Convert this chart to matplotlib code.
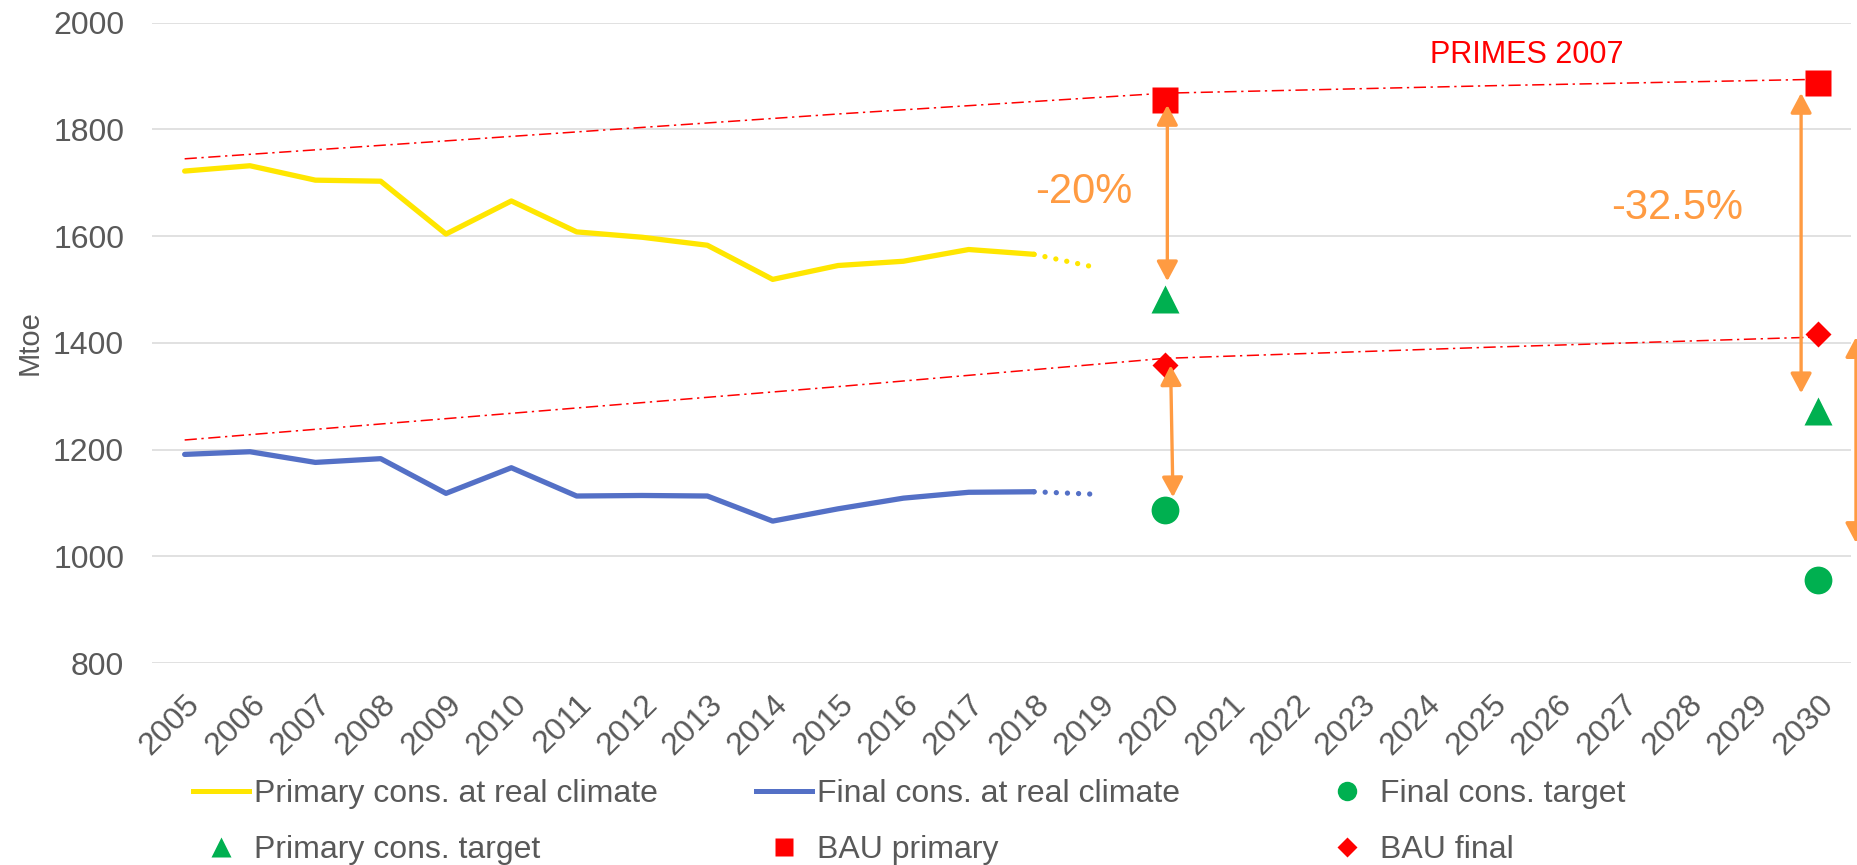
import matplotlib
matplotlib.use("Agg")
import matplotlib.pyplot as plt
from matplotlib.lines import Line2D

plt.rcParams['font.family'] = ['Liberation Sans', 'DejaVu Sans']

# Categories on the x axis
years = list(range(2005, 2031))

# Observed consumption, 2005-2018 (Mtoe)
hist_years = list(range(2005, 2019))
primary_real = [1722, 1732, 1705, 1703, 1604, 1666, 1608, 1598, 1583, 1519,
                1545, 1553, 1575, 1566]
final_real = [1191, 1196, 1176, 1183, 1118, 1166, 1113, 1114, 1113, 1066,
              1089, 1109, 1120, 1121]

# Provisional estimate 2018 -> 2019
ext_years = [2018, 2019]
primary_ext = [1566, 1540]
final_ext = [1121, 1116]

# Targets and business-as-usual projections
target_years = [2020, 2030]
primary_target = [1483, 1273]
final_target = [1086, 956]
bau_primary = [1855, 1888]
bau_final = [1358, 1416]

# PRIMES 2007 baseline trajectories
primes_years = [2005, 2010, 2015, 2020, 2025, 2030]
primes_primary = [1745, 1787, 1829, 1868, 1882, 1894]
primes_final = [1218, 1268, 1318, 1371, 1392, 1411]

reduction_labels = ['-20%', '-32.5%']

YELLOW = '#FFE600'
BLUE = '#5470C6'
GREEN = '#00B050'
RED = '#FF0000'
ORANGE = '#FF9B42'
GREY = '#595959'


def pos(yrs):
    return [y - years[0] for y in yrs]


fig = plt.figure(figsize=(18.58, 8.65), dpi=100)
ax = fig.add_axes([0.0818, 0.2335, 0.9143, 0.7402])

# baselines
dashdot = (0, (8, 3, 1.5, 3))
ax.plot(pos(primes_years), primes_primary, color=RED, lw=1.1,
        linestyle=dashdot, zorder=2)
ax.plot(pos(primes_years), primes_final, color=RED, lw=1.1,
        linestyle=dashdot, zorder=2)

# observed series
ax.plot(pos(hist_years), primary_real, color=YELLOW, lw=3.8,
        solid_joinstyle='round', solid_capstyle='round', zorder=3)
ax.plot(pos(hist_years), final_real, color=BLUE, lw=3.8,
        solid_joinstyle='round', solid_capstyle='round', zorder=3)
dotted = (0, (0.01, 2.1))
ax.plot(pos(ext_years), primary_ext, color=YELLOW, lw=3.8,
        linestyle=dotted, dash_capstyle='round', zorder=3)
ax.plot(pos(ext_years), final_ext, color=BLUE, lw=3.8,
        linestyle=dotted, dash_capstyle='round', zorder=3)

# markers
ax.plot(pos(target_years), final_target, 'o', color=GREEN, ms=20,
        mec='none', zorder=4)
ax.plot(pos(target_years), primary_target, '^', color=GREEN, ms=20,
        mec='none', zorder=4)
ax.plot(pos(target_years), bau_primary, 's', color=RED, ms=18.5,
        mec='none', zorder=4)
ax.plot(pos(target_years), bau_final, 'D', color=RED, ms=13.5,
        mec='none', zorder=4)

# reduction arrows: (x offset top, x offset bottom, top, bottom, shrink top, shrink bottom)
arrow_style = '<|-|>,head_length=0.6,head_width=0.32'
arrows = [
    (0.04, 0.04, bau_primary[0], primary_target[0], 3.5, 12.5),
    (0.09, 0.13, bau_final[0], final_target[0], 0, 9.5),
    (-0.26, -0.26, bau_primary[1], primary_target[1], 7.5, 12.5),
    (0.58, 0.58, bau_final[1], final_target[1], 2, 26.5),
]
for i, (dx_top, dx_bot, top, bot, sa, sb) in enumerate(arrows):
    x0 = pos([target_years[i // 2]])[0]
    ax.annotate('', xy=(x0 + dx_bot, bot), xytext=(x0 + dx_top, top),
                arrowprops=dict(arrowstyle=arrow_style, mutation_scale=20,
                                lw=2.4, color=ORANGE, shrinkA=sa, shrinkB=sb),
                annotation_clip=False, zorder=5)

ax.text(13.76, 1683, reduction_labels[0], color=ORANGE, fontsize=30,
        ha='center', va='center')
ax.text(22.85, 1653, reduction_labels[1], color=ORANGE, fontsize=30,
        ha='center', va='center')
ax.text(20.54, 1940, 'PRIMES 2007', color=RED, fontsize=22,
        ha='center', va='center')

# axes styling
ax.set_xlim(-0.5, len(years) - 0.5)
ax.set_ylim(800, 2000)
ax.set_yticks(range(800, 2001, 200))
ax.set_xticks(range(len(years)))
ax.set_xticklabels([str(y) for y in years], rotation=45, ha='right',
                   va='top', rotation_mode='anchor')
ax.tick_params(axis='x', length=0, pad=19, labelsize=23, labelcolor=GREY)
ax.tick_params(axis='y', length=0, pad=20, labelsize=23, labelcolor=GREY)
ax.grid(axis='y', color='#D9D9D9', lw=1.1)
ax.set_axisbelow(True)
for sp in ax.spines.values():
    sp.set_visible(False)

fig.text(29.5 / 1858, 1 - 342.5 / 865, 'Mtoe', rotation=90, fontsize=21,
         color=GREY, ha='center', va='center')

# legend, three columns laid out like the source sheet
h_primary = Line2D([], [], color=YELLOW, lw=3.6)
h_final = Line2D([], [], color=BLUE, lw=3.6)
h_ftarget = Line2D([], [], ls='none', marker='o', color=GREEN, ms=14, mec='none')
h_ptarget = Line2D([], [], ls='none', marker='^', color=GREEN, ms=14, mec='none')
h_bau_p = Line2D([], [], ls='none', marker='s', color=RED, ms=13, mec='none')
h_bau_f = Line2D([], [], ls='none', marker='D', color=RED, ms=10, mec='none')

columns = [
    (193, [h_primary, h_ptarget], ['Primary cons. at real climate', 'Primary cons. target']),
    (756, [h_final, h_bau_p], ['Final cons. at real climate', 'BAU primary']),
    (1319, [h_ftarget, h_bau_f], ['Final cons. target', 'BAU final']),
]
for x_px, handles, labels in columns:
    leg = fig.legend(handles, labels, loc='upper left',
                     bbox_to_anchor=(x_px / 1858, 1 - 779 / 865),
                     frameon=False, fontsize=23, handlelength=1.75,
                     handletextpad=0.16, labelspacing=0.82, borderpad=0,
                     borderaxespad=0)
    for t in leg.get_texts():
        t.set_color(GREY)

fig.savefig('out.png', dpi=100)
